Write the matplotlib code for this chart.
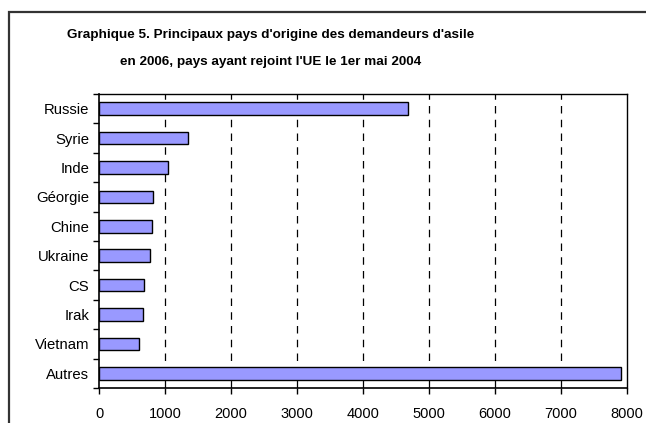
import numpy as np
import matplotlib.pyplot as plt
from matplotlib.patches import Rectangle

plt.rcParams['font.family'] = ['Liberation Sans', 'DejaVu Sans']

pays = ["Russie", "Syrie", "Inde", "Géorgie", "Chine", "Ukraine", "CS", "Irak", "Vietnam", "Autres"]
demandes = [4680, 1350, 1045, 818, 798, 778, 687, 671, 606, 7910]
xticks = [0, 1000, 2000, 3000, 4000, 5000, 6000, 7000, 8000]

W, H = 646, 423
fig = plt.figure(figsize=(W / 100, H / 100), dpi=100)

# cadre extérieur (coupé à droite et en bas)
fig.patches.append(Rectangle((8.5 / W, -0.1), 1.2, (H - 12.5) / H + 0.1, transform=fig.transFigure,
                             fill=False, edgecolor='#333333', linewidth=1.6))

ax = fig.add_axes([99 / W, 1 - 388 / H, (627 - 99) / W, (388 - 94) / H])

y = np.arange(len(pays))
ax.barh(y, demandes, height=0.43, color='#9999FF', edgecolor='black', linewidth=1.0, zorder=3)
ax.set_ylim(len(pays) - 0.5, -0.5)
ax.set_xlim(0, 8000)

ax.set_xticks(xticks)
ax.set_xticklabels([str(v) for v in xticks], fontsize=10.5)
ax.set_yticks(y)
ax.set_yticklabels(pays, fontsize=10.7)
ax.set_yticks(np.arange(len(pays) + 1) - 0.5, minor=True)
ax.tick_params(axis='y', which='major', length=0, pad=7)
ax.tick_params(axis='y', which='minor', length=4, width=1, direction='out')
ax.tick_params(axis='x', length=4, width=1, direction='out', pad=10)

for v in xticks[1:-1]:
    ax.axvline(v, color='black', linestyle=(0, (6, 5)), linewidth=0.9, zorder=1)

for s in ['top', 'right']:
    ax.spines[s].set_linewidth(1.0)
ax.spines['left'].set_linewidth(1.2)
ax.spines['bottom'].set_linewidth(1.2)

fig.text(271 / W, 1 - 35 / H, "Graphique 5. Principaux pays d'origine des demandeurs d'asile",
         ha='center', va='center', fontsize=9.7, fontweight='bold')
fig.text(271 / W, 1 - 62 / H, "en 2006, pays ayant rejoint l'UE le 1er mai 2004",
         ha='center', va='center', fontsize=9.7, fontweight='bold')

fig.savefig("out.png", dpi=100)
